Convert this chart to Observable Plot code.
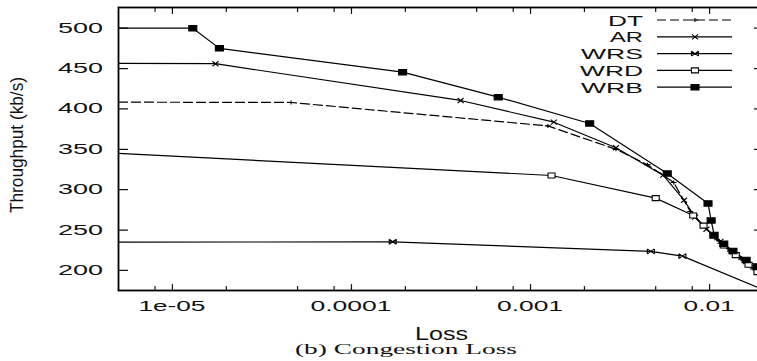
<!DOCTYPE html>
<html><head><meta charset="utf-8">
<script src="https://cdn.jsdelivr.net/npm/d3@7"></script>
<script src="https://cdn.jsdelivr.net/npm/@observablehq/plot@0.6"></script>
<style>
html,body{margin:0;padding:0;background:#fff;overflow:hidden}
#chart svg{display:block}
</style></head><body><div id="chart"></div>
<script>
// ---- data ----
const seriesNames = ["DT", "AR", "WRS", "WRD", "WRB"];

const lossDT = [5e-6, 4.6e-5, 1.25e-3, 3e-3, 4.5e-3, 6.3e-3, 7.8e-3, 9.2e-3, 0.011, 0.013, 0.015, 0.0175, 0.02];
const tputDT = [408.4, 408, 379, 350, 331, 309, 273, 256, 238, 224, 214, 202, 193];

const lossAR = [5e-6, 1.74e-5, 4.07e-4, 1.35e-3, 3e-3, 5.5e-3, 7.2e-3, 8.3e-3, 9.6e-3, 0.0115, 0.0135, 0.016, 0.0185, 0.02];
const tputAR = [456.5, 456, 410.5, 383.6, 352, 318, 287, 266, 251, 236, 223, 211, 202, 197];

const lossWRS = [5e-6, 1.7e-4, 4.7e-3, 7.05e-3, 0.02];
const tputWRS = [235, 235.5, 223.6, 217.7, 176];

const lossWRD = [5e-6, 1.31e-3, 5e-3, 8.1e-3, 9.25e-3, 0.0105, 0.012, 0.014, 0.0165, 0.0185, 0.02];
const tputWRD = [345, 317.6, 289.6, 268, 255.5, 243, 231, 219, 207, 198, 193];

const lossWRB = [5e-6, 1.3e-5, 1.83e-5, 1.93e-4, 6.6e-4, 2.14e-3, 5.8e-3, 9.8e-3, 0.0102, 0.0106, 0.012, 0.0135, 0.016, 0.0185, 0.02];
const tputWRB = [500, 500, 475, 445.5, 414.6, 382, 320, 283, 262, 244, 233, 224, 213, 205, 200];

const xDomain = [5e-6, 0.02];
const yDomain = [175.2, 525.6];
const xMajorTicks = [1e-5, 1e-4, 1e-3, 1e-2];
const xTickLabels = ["1e-05", "0.0001", "0.001", "0.01"];
const xTickLabelWidths = [67, 81, 66, 51];
const xMinorTicks = [8e-6, 2e-5, 5e-5, 8e-5, 2e-4, 5e-4, 8e-4, 2e-3, 5e-3, 8e-3];
const yTicks = [200, 250, 300, 350, 400, 450, 500];
const yTickLabels = ["200", "250", "300", "350", "400", "450", "500"];
const xLabel = "Loss";
const yLabel = "Throughput (kb/s)";
const caption = "(b) Congestion Loss";
const legendWidths = [35, 33, 62, 63, 62];

// ---- marker shapes (gnuplot-like) ----
const symPlus = {draw(c){ c.moveTo(-3,0); c.lineTo(3,0); c.moveTo(0,-2); c.lineTo(0,2); }};
const symTimes = {draw(c){ c.moveTo(-3,-2.5); c.lineTo(3,2.5); c.moveTo(-3,2.5); c.lineTo(3,-2.5); }};
const symStar = {draw(c){ c.moveTo(-3.5,-2.5); c.lineTo(3.5,2.5); c.moveTo(-3.5,2.5); c.lineTo(3.5,-2.5); c.moveTo(-3.5,-2.5); c.lineTo(-3.5,2.5); c.moveTo(3.5,-2.5); c.lineTo(3.5,2.5); }};
const symBox = {draw(c){ c.rect(-3.5,-2.5,7,5); }};
const symBoxFilled = {draw(c){ c.rect(-4,-2.7,8,5.4); }};

const styles = {
  DT:  {sym: symPlus, fill: "none", dash: "9,4"},
  AR:  {sym: symTimes, fill: "none", dash: null},
  WRS: {sym: symStar, fill: "none", dash: null},
  WRD: {sym: symBox, fill: "white", dash: null},
  WRB: {sym: symBoxFilled, fill: "black", dash: null}
};
const lossBy = {DT: lossDT, AR: lossAR, WRS: lossWRS, WRD: lossWRD, WRB: lossWRB};
const tputBy = {DT: tputDT, AR: tputAR, WRS: tputWRS, WRD: tputWRD, WRB: tputWRB};

const rows = {};
for (const s of seriesNames) rows[s] = lossBy[s].map((l, i) => ({loss: l, tput: tputBy[s][i]}));

const tickShape = {draw(c, l){ c.moveTo(0,0); c.lineTo(0,-l); }};

const marks = [];
// ticks (inward, mirrored)
marks.push(Plot.vectorX(xMajorTicks, {x: d => d, frameAnchor: "bottom", rotate: 0, length: 6, anchor: "start", shape: tickShape, stroke: "#111", strokeWidth: 1.2}));
marks.push(Plot.vectorX(xMinorTicks, {x: d => d, frameAnchor: "bottom", rotate: 0, length: 4, anchor: "start", shape: tickShape, stroke: "#111", strokeWidth: 1.2}));
marks.push(Plot.vectorX(xMajorTicks, {x: d => d, frameAnchor: "top", rotate: 180, length: 6, anchor: "start", shape: tickShape, stroke: "#111", strokeWidth: 1.2}));
marks.push(Plot.vectorX(xMinorTicks, {x: d => d, frameAnchor: "top", rotate: 180, length: 4, anchor: "start", shape: tickShape, stroke: "#111", strokeWidth: 1.2}));
marks.push(Plot.vectorY(yTicks, {y: d => d, frameAnchor: "left", rotate: 90, length: 9, anchor: "start", shape: tickShape, stroke: "#111", strokeWidth: 1.2}));
marks.push(Plot.vectorY(yTicks, {y: d => d, frameAnchor: "right", rotate: -90, length: 9, anchor: "start", shape: tickShape, stroke: "#111", strokeWidth: 1.2}));

for (const s of seriesNames) {
  const st = styles[s];
  marks.push(Plot.line(rows[s], {x: "loss", y: "tput", stroke: "#000", strokeWidth: 1.2, strokeDasharray: st.dash || undefined}));
}
for (const s of seriesNames) {
  const st = styles[s];
  marks.push(Plot.dot(rows[s].filter(d => d.loss > xDomain[0] && d.loss < xDomain[1]), {x: "loss", y: "tput", symbol: st.sym, r: 3, fill: st.fill, stroke: "#000", strokeWidth: 1.1}));
}
marks.push(Plot.frame({stroke: "#000", strokeWidth: 1.8}));

const chart = Plot.plot({
  width: 757, height: 361,
  marginLeft: 118, marginRight: -6, marginTop: 7, marginBottom: 71,
  style: {fontFamily: "'Liberation Sans', Arial, sans-serif", background: "#fff", color: "#000"},
  x: {type: "log", domain: xDomain, axis: null},
  y: {domain: yDomain, axis: null},
  marks
});
document.getElementById("chart").appendChild(chart);

// ---- text layer (stretched like the reference) ----
const svg = d3.select(chart);
const xs = chart.scale("x"), ys = chart.scale("y");
const g = svg.append("g").attr("fill", "#111").attr("font-family", "'Liberation Sans', Arial, sans-serif");

xMajorTicks.forEach((v, i) => {
  g.append("text").attr("x", xs.apply(v)).attr("y", 311).attr("text-anchor", "middle")
    .attr("font-size", 14.5).attr("textLength", xTickLabelWidths[i]).attr("lengthAdjust", "spacingAndGlyphs")
    .text(xTickLabels[i]);
});
yTicks.forEach((v, i) => {
  g.append("text").attr("x", 103).attr("y", ys.apply(v) + 5).attr("text-anchor", "end")
    .attr("font-size", 14).attr("textLength", 45).attr("lengthAdjust", "spacingAndGlyphs")
    .text(yTickLabels[i]);
});
g.append("text").attr("x", 441.5).attr("y", 340).attr("text-anchor", "middle")
  .attr("font-size", 18).attr("textLength", 53).attr("lengthAdjust", "spacingAndGlyphs").text(xLabel);
g.append("text").attr("transform", "translate(23,145) scale(1.35,1) rotate(-90)").attr("text-anchor", "middle")
  .attr("font-size", 14).attr("textLength", 136).attr("lengthAdjust", "spacingAndGlyphs").text(yLabel);
g.append("text").attr("x", 406).attr("y", 353.5).attr("text-anchor", "middle")
  .attr("font-family", "'Liberation Serif', 'Times New Roman', serif")
  .attr("font-size", 14).attr("textLength", 222).attr("lengthAdjust", "spacingAndGlyphs").text(caption);

// ---- legend ----
seriesNames.forEach((s, i) => {
  const cy = 20 + 16.8 * i;
  const st = styles[s];
  g.append("text").attr("x", 643).attr("y", cy + 5.6).attr("text-anchor", "end")
    .attr("font-size", 15.5).attr("textLength", legendWidths[i]).attr("lengthAdjust", "spacingAndGlyphs").text(s);
  g.append("line").attr("x1", 657).attr("x2", 732).attr("y1", cy).attr("y2", cy)
    .attr("stroke", "#000").attr("stroke-width", 1.2).attr("stroke-dasharray", st.dash);
  const p = d3.path(); st.sym.draw(p);
  g.append("path").attr("d", p.toString()).attr("transform", `translate(695,${cy})`)
    .attr("fill", st.fill).attr("stroke", "#000").attr("stroke-width", 1.1);
});
</script></body></html>
